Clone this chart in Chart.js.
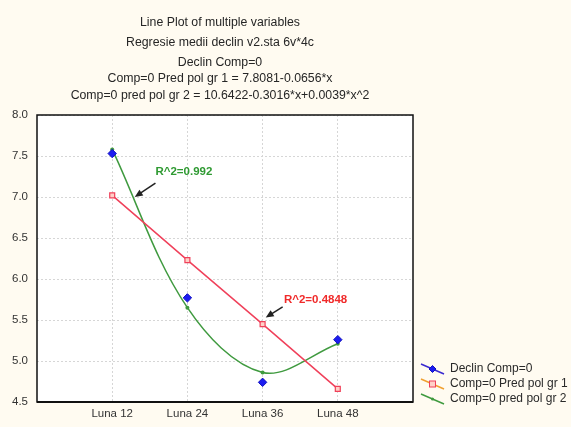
<!DOCTYPE html>
<html>
<head>
<meta charset="utf-8">
<script src="https://cdn.jsdelivr.net/npm/chart.js@4/dist/chart.umd.min.js"></script>
<style>
  html, body { margin: 0; padding: 0; background: #fffbf1; }
  #wrap { width: 571px; height: 427px; }
</style>
</head>
<body>
<div id="wrap"><canvas id="c" width="571" height="427"></canvas></div>
<script>
// Months of follow-up and their axis labels
const months = [12, 24, 36, 48];
const categories = ['Luna 12', 'Luna 24', 'Luna 36', 'Luna 48'];

// Observed means
const declin = [7.53, 5.77, 4.74, 5.26];
// Linear fit: 7.8081-0.0656*x
const predGr1 = [7.02, 6.23, 5.45, 4.66];
// Quadratic fit: 10.6422-0.3016*x+0.0039*x^2
const predGr2 = [7.58, 5.65, 4.86, 5.21];

const seriesNames = ['Declin Comp=0', 'Comp=0 Pred pol gr 1', 'Comp=0 pred pol gr 2'];

const titleLines = [
  'Line Plot of multiple variables',
  'Regresie medii declin v2.sta 6v*4c',
  'Declin Comp=0',
  'Comp=0 Pred pol gr 1 = 7.8081-0.0656*x',
  'Comp=0 pred pol gr 2 = 10.6422-0.3016*x+0.0039*x^2'
];

const yTicks = { min: 4.5, max: 8.0, step: 0.5 };

// R^2 call-outs (text anchor and arrow, in axis units)
const callouts = [
  { text: 'R^2=0.992', color: '#2f9a32', at: [18.9, 7.31], from: [18.9, 7.17], to: [15.6, 7.0] },
  { text: 'R^2=0.4848', color: '#f02a2a', at: [39.4, 5.75], from: [39.2, 5.66], to: [36.5, 5.53] }
];

const FONT = '"Liberation Sans", Arial, sans-serif';
const toXY = vals => vals.map((v, i) => ({ x: months[i], y: v }));

const colors = {
  blue: '#1c1cf0',
  red: '#f0405a',
  green: '#3f9a3f'
};

const decor = {
  id: 'decor',
  beforeDraw(chart) {
    const { ctx, chartArea: a } = chart;
    ctx.save();
    ctx.fillStyle = '#fffbf1';
    ctx.fillRect(0, 0, chart.width, chart.height);
    ctx.fillStyle = '#ffffff';
    ctx.fillRect(a.left, a.top, a.right - a.left, a.bottom - a.top);
    // heading
    ctx.fillStyle = '#262626';
    ctx.font = '12.3px ' + FONT;
    ctx.textAlign = 'center';
    ctx.textBaseline = 'middle';
    const cx = 220;
    const ys = [23, 43, 63, 79, 96];
    titleLines.forEach((t, i) => ctx.fillText(t, cx, ys[i]));
    ctx.restore();
  },
  beforeDatasetsDraw(chart) {
    const { ctx, chartArea: a } = chart;
    ctx.save();
    ctx.strokeStyle = '#111';
    ctx.lineWidth = 1.5;
    ctx.strokeRect(a.left, a.top, a.right - a.left, a.bottom - a.top);
    ctx.lineWidth = 2;
    ctx.beginPath();
    ctx.moveTo(a.left, a.bottom);
    ctx.lineTo(a.right, a.bottom);
    ctx.stroke();
    ctx.restore();
  },
  afterDatasetsDraw(chart) {
    const { ctx, scales } = chart;
    const px = p => [scales.x.getPixelForValue(p[0]), scales.y.getPixelForValue(p[1])];
    ctx.save();
    callouts.forEach(c => {
      const [tx, ty] = px(c.at);
      ctx.font = 'bold 11.5px ' + FONT;
      ctx.fillStyle = c.color;
      ctx.textAlign = 'left';
      ctx.textBaseline = 'middle';
      ctx.fillText(c.text, tx, ty);
      const [x1, y1] = px(c.from);
      const [x2, y2] = px(c.to);
      const ang = Math.atan2(y2 - y1, x2 - x1);
      ctx.strokeStyle = '#222';
      ctx.fillStyle = '#222';
      ctx.lineWidth = 1.5;
      ctx.beginPath();
      ctx.moveTo(x1, y1);
      ctx.lineTo(x2 - 5 * Math.cos(ang), y2 - 5 * Math.sin(ang));
      ctx.stroke();
      ctx.beginPath();
      ctx.moveTo(x2, y2);
      ctx.lineTo(x2 - 8 * Math.cos(ang) + 3.5 * Math.sin(ang), y2 - 8 * Math.sin(ang) - 3.5 * Math.cos(ang));
      ctx.lineTo(x2 - 8 * Math.cos(ang) - 3.5 * Math.sin(ang), y2 - 8 * Math.sin(ang) + 3.5 * Math.cos(ang));
      ctx.closePath();
      ctx.fill();
    });
    ctx.restore();
  },
  afterDraw(chart) {
    // legend with slanted line samples
    const { ctx } = chart;
    ctx.save();
    const rows = [369, 384, 399];
    chart.data.datasets.forEach((ds, i) => {
      const y = rows[i];
      const x1 = 421, x2 = 444;
      ctx.strokeStyle = ds.legendLine;
      ctx.lineWidth = 1.5;
      ctx.beginPath();
      ctx.moveTo(x1, y - 5);
      ctx.lineTo(x2, y + 5);
      ctx.stroke();
      const mx = (x1 + x2) / 2, my = y;
      ctx.fillStyle = ds.backgroundColor;
      ctx.strokeStyle = ds.pointBorderColor;
      ctx.lineWidth = 1;
      if (ds.pointStyle === 'rectRot') {
        ctx.beginPath();
        ctx.moveTo(mx, my - 3.5); ctx.lineTo(mx + 3.5, my); ctx.lineTo(mx, my + 3.5); ctx.lineTo(mx - 3.5, my);
        ctx.closePath(); ctx.fill(); ctx.stroke();
      } else if (ds.pointStyle === 'rect') {
        ctx.fillRect(mx - 3, my - 3, 6, 6); ctx.strokeRect(mx - 3, my - 3, 6, 6);
      } else {
        ctx.beginPath(); ctx.arc(mx, my, 1.5, 0, Math.PI * 2); ctx.fill();
      }
      ctx.fillStyle = '#2a2a2a';
      ctx.font = '12px ' + FONT;
      ctx.textAlign = 'left';
      ctx.textBaseline = 'middle';
      ctx.fillText(ds.label, 450, y);
    });
    ctx.restore();
  }
};

new Chart(document.getElementById('c'), {
  type: 'line',
  data: {
    datasets: [
      {
        label: seriesNames[0],
        data: toXY(declin),
        showLine: false,
        pointStyle: 'rectRot',
        pointRadius: 4.2,
        backgroundColor: colors.blue,
        pointBackgroundColor: colors.blue,
        pointBorderColor: '#1010c0',
        borderColor: colors.blue,
        legendLine: '#3a2ad0'
      },
      {
        label: seriesNames[1],
        data: toXY(predGr1),
        borderColor: colors.red,
        borderWidth: 1.5,
        tension: 0,
        pointStyle: 'rect',
        pointRadius: 3.5,
        backgroundColor: '#ffd0c8',
        pointBackgroundColor: '#ffd0c8',
        pointBorderColor: colors.red,
        pointBorderWidth: 1.2,
        legendLine: '#f0a030'
      },
      {
        label: seriesNames[2],
        data: toXY(predGr2),
        borderColor: colors.green,
        borderWidth: 1.5,
        tension: 0.35,
        pointStyle: 'circle',
        pointRadius: 2,
        backgroundColor: colors.green,
        pointBackgroundColor: colors.green,
        pointBorderColor: colors.green,
        pointBorderWidth: 0,
        legendLine: colors.green
      }
    ]
  },
  options: {
    responsive: false,
    animation: false,
    devicePixelRatio: 1,
    layout: { padding: { top: 115, right: 158, left: 0, bottom: 0 } },
    plugins: {
      legend: { display: false },
      title: { display: false },
      tooltip: { enabled: false }
    },
    scales: {
      x: {
        type: 'linear',
        min: 0,
        max: 60,
        afterBuildTicks(scale) {
          scale.ticks = months.map(v => ({ value: v }));
        },
        afterFit(scale) { scale.height = 25; },
        ticks: {
          callback: v => categories[months.indexOf(v)],
          color: '#333',
          font: { family: FONT, size: 11.5 },
          padding: 5,
          maxRotation: 0
        },
        grid: {
          color: '#d6d6d6',
          lineWidth: 1,
          drawTicks: false
        },
        border: { display: false, dash: [2, 2] }
      },
      y: {
        min: yTicks.min,
        max: yTicks.max,
        afterFit(scale) { scale.width = 37; },
        ticks: {
          stepSize: yTicks.step,
          callback: v => v.toFixed(1),
          color: '#333',
          font: { family: FONT, size: 11.5 },
          padding: 9
        },
        grid: {
          color: '#d6d6d6',
          lineWidth: 1,
          drawTicks: false
        },
        border: { display: false, dash: [2, 2] }
      }
    }
  },
  plugins: [decor]
});
</script>
</body>
</html>
